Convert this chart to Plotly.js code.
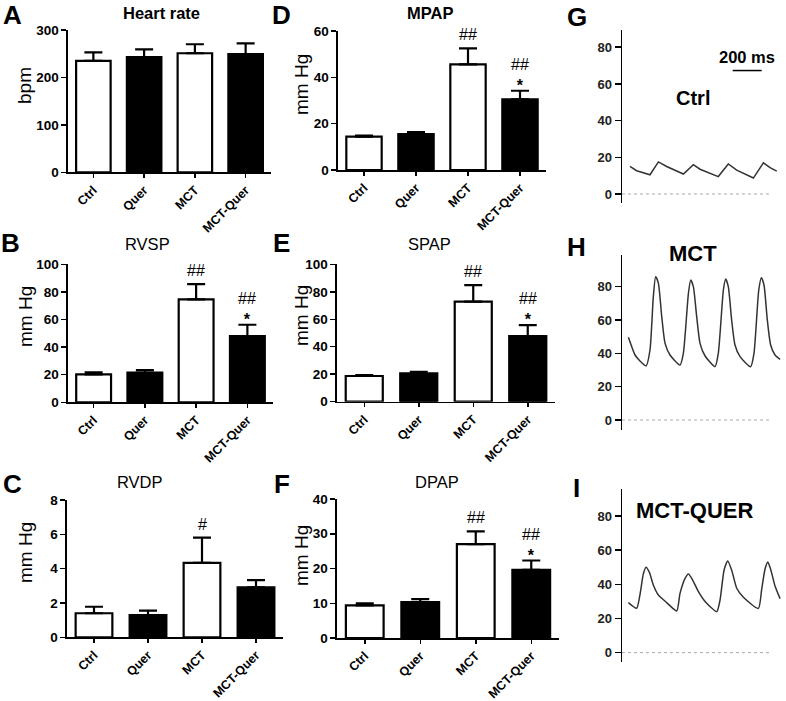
<!DOCTYPE html>
<html>
<head>
<meta charset="utf-8">
<script src="https://cdn.plot.ly/plotly-3.0.1.min.js"></script>
<style>
  html, body { margin: 0; padding: 0; background: #fff; }
  #figura { width: 786px; height: 701px; }
</style>
</head>
<body>
<div id="figura"></div>
<script>
// ---------------------------------------------------------------------
// DATA
// ---------------------------------------------------------------------
const CATEGORIES = ["Ctrl", "Quer", "MCT", "MCT-Quer"];

const HR_MEAN = [235, 243, 251, 249];
const HR_SEM = [18, 16, 19, 23];

const MPAP_MEAN = [14.4, 15.5, 45.6, 30.5];
const MPAP_SEM = [0.4, 0.9, 6.9, 3.7];

const RVSP_MEAN = [20.3, 21.5, 74.6, 48.0];
const RVSP_SEM = [1.4, 1.9, 11.1, 8.2];

const SPAP_MEAN = [18.7, 20.7, 72.8, 47.8];
const SPAP_SEM = [0.6, 1.0, 12.1, 8.0];

const RVDP_MEAN = [1.40, 1.30, 4.34, 2.91];
const RVDP_SEM = [0.38, 0.25, 1.47, 0.42];

const DPAP_MEAN = [9.4, 10.3, 27.0, 19.6];
const DPAP_SEM = [0.6, 0.9, 3.7, 2.7];

// significance marks (# vs Ctrl, * vs MCT)
const HR_SIG = ["", "", "", ""];
const HR_STAR = ["", "", "", ""];
const MPAP_SIG = ["", "", "##", "##"];
const MPAP_STAR = ["", "", "", "*"];
const RVSP_SIG = ["", "", "##", "##"];
const RVSP_STAR = ["", "", "", "*"];
const SPAP_SIG = ["", "", "##", "##"];
const SPAP_STAR = ["", "", "", "*"];
const RVDP_SIG = ["", "", "#", ""];
const RVDP_STAR = ["", "", "", ""];
const DPAP_SIG = ["", "", "##", "##"];
const DPAP_STAR = ["", "", "", "*"];

// pressure recordings (time in ms, pressure in mm Hg)
const CTRL_T = [55, 101, 193, 251, 308, 423, 492, 538, 664, 733, 791, 906, 975, 1021, 1067];
const CTRL_P = [15, 12.7, 10.5, 17.5, 15, 10.9, 16, 13.5, 9.5, 16.4, 13, 8.7, 17, 14.4, 12.5];

const MCT_T = [44, 67, 90, 124, 166, 193, 216, 232, 251, 274, 297, 331, 400, 423, 458, 474, 492, 515, 538, 573,
  641, 664, 699, 715, 733, 756, 779, 814, 887, 910, 943, 961, 979, 1002, 1025, 1055, 1090];
const MCT_P = [49.6, 44, 39, 35.4, 32.4, 42, 74, 86, 82, 62, 46, 39, 33, 40, 76, 84, 80, 62, 46, 38.4,
  32, 40, 78, 84.6, 80, 60, 45, 38, 32, 40, 78, 85.4, 81, 60, 45, 39, 36.4];

const MCTQ_T = [44, 101, 124, 147, 166, 189, 216, 251, 308, 377, 400, 435, 458, 487, 527, 573, 653, 676, 704, 729,
  756, 791, 837, 940, 963, 986, 1005, 1025, 1055, 1090];
const MCTQ_P = [29.3, 26, 34, 46, 50, 47, 39.6, 33.7, 29.3, 24.4, 34.7, 43.5, 46, 42.5, 35.7, 29.9, 24, 30.8, 48.4, 53.7,
  48.4, 37.7, 32.4, 25.9, 37, 48.8, 53, 48.8, 39, 31.6];

const SCALE_BAR_MS = 200;
const SCALE_BAR_START = 763;
const BASELINE_END_MS = 1022;

// ---------------------------------------------------------------------
// STYLE / GEOMETRY
// ---------------------------------------------------------------------
const W = 786, H = 701;
const FONT = "Arial, 'Liberation Sans', sans-serif";
const BAR_FILL = ["white", "black", "white", "black"];

const fx = (px) => px / W;
const fy = (py) => 1 - py / H;
const axKey = (n, l) => (n === 1 ? l + "axis" : l + "axis" + n);
const axRef = (n, l) => (n === 1 ? l : l + n);

const BAR_PANELS = [
  { n: 1, letter: "A", title: "Heart rate", bold: true, mean: HR_MEAN, sem: HR_SEM, sig: HR_SIG, star: HR_STAR,
    ymax: 300, dtick: 100, ytitle: "bpm", box: [68, 271, 30, 172.3], titlePos: [161, 13], letterPos: [12.5, 15], ytitlePos: [24, 86] },
  { n: 2, letter: "D", title: "MPAP", bold: true, mean: MPAP_MEAN, sem: MPAP_SEM, sig: MPAP_SIG, star: MPAP_STAR,
    ymax: 60, dtick: 20, ytitle: "mm Hg", box: [338, 546, 31, 170], titlePos: [430, 13], letterPos: [281, 15], ytitlePos: [301, 85] },
  { n: 4, letter: "B", title: "RVSP", bold: false, mean: RVSP_MEAN, sem: RVSP_SEM, sig: RVSP_SIG, star: RVSP_STAR,
    ymax: 100, dtick: 20, ytitle: "mm Hg", box: [68, 273, 264.3, 402.3], titlePos: [147, 244], letterPos: [10, 243], ytitlePos: [25, 317] },
  { n: 5, letter: "E", title: "SPAP", bold: false, mean: SPAP_MEAN, sem: SPAP_SEM, sig: SPAP_SIG, star: SPAP_STAR,
    ymax: 100, dtick: 20, ytitle: "mm Hg", box: [337, 555, 264.3, 401.7], titlePos: [430, 244], letterPos: [281, 243], ytitlePos: [302, 316] },
  { n: 7, letter: "C", title: "RVDP", bold: false, mean: RVDP_MEAN, sem: RVDP_SEM, sig: RVDP_SIG, star: RVDP_STAR,
    ymax: 8, dtick: 2, ytitle: "mm Hg", box: [67, 283, 500, 637.3], titlePos: [140, 482], letterPos: [12, 484], ytitlePos: [25, 553] },
  { n: 8, letter: "F", title: "DPAP", bold: false, mean: DPAP_MEAN, sem: DPAP_SEM, sig: DPAP_SIG, star: DPAP_STAR,
    ymax: 40, dtick: 10, ytitle: "mm Hg", box: [337, 559, 499, 638], titlePos: [437, 482], letterPos: [282, 484], ytitlePos: [301, 556] },
];

const TRACE_PANELS = [
  { n: 3, letter: "G", t: CTRL_T, p: CTRL_P, shape: "linear", box: [622, 784, 30, 203], yrange: [-4.9, 89.4],
    label: "Ctrl", labelPos: [693, 98], labelSize: 20, letterPos: [577, 17] },
  { n: 6, letter: "H", t: MCT_T, p: MCT_P, shape: "spline", box: [622, 784, 255, 430], yrange: [-6, 99],
    label: "MCT", labelPos: [693, 253], labelSize: 22, letterPos: [576, 247] },
  { n: 9, letter: "I", t: MCTQ_T, p: MCTQ_P, shape: "spline", box: [622, 784, 489.3, 661.7], yrange: [-5.3, 95.6],
    label: "MCT-QUER", labelPos: [694, 510], labelSize: 22, letterPos: [576, 488] },
];

const T_RANGE = [0, 1117];

// ---------------------------------------------------------------------
// BUILD FIGURE
// ---------------------------------------------------------------------
const traces = [];
const annotations = [];
const shapes = [];
const layout = {
  width: W, height: H,
  margin: { l: 0, r: 0, t: 0, b: 0 },
  paper_bgcolor: "white", plot_bgcolor: "white",
  showlegend: false,
  font: { family: FONT, color: "black" },
};

function paperText(text, pos, size, opts = {}) {
  annotations.push(Object.assign({
    xref: "paper", yref: "paper", x: fx(pos[0]), y: fy(pos[1]),
    xanchor: "center", yanchor: "middle", showarrow: false, text: text,
    font: { family: FONT, size: size, color: "black", weight: opts.bold ? "bold" : "normal" },
  }, opts.extra || {}));
}

BAR_PANELS.forEach((pnl) => {
  const xr = axRef(pnl.n, "x"), yr = axRef(pnl.n, "y");
  const [x0, x1, top, bottom] = pnl.box;

  traces.push({
    type: "bar", x: CATEGORIES, y: pnl.mean, xaxis: xr, yaxis: yr, width: 0.68,
    marker: { color: BAR_FILL, line: { color: "black", width: 2.2 } },
    error_y: { type: "data", symmetric: false, array: pnl.sem, arrayminus: pnl.sem.map(() => 0),
      color: "black", thickness: 2.2, width: 9 },
    hoverinfo: "skip",
  });

  layout[axKey(pnl.n, "x")] = {
    domain: [fx(x0), fx(x1)], anchor: yr, type: "category", categoryarray: CATEGORIES,
    range: [-0.5, 3.5], showline: true, linecolor: "black", linewidth: 1.6,
    ticks: "outside", ticklen: 4, tickwidth: 1.5, tickcolor: "black", tickangle: -45,
    showgrid: false, zeroline: false, fixedrange: true,
    tickfont: { family: FONT, size: 12.5, color: "black", weight: "bold" },
  };
  layout[axKey(pnl.n, "y")] = {
    domain: [fy(bottom), fy(top)], anchor: xr, range: [0, pnl.ymax], dtick: pnl.dtick, tick0: 0,
    showline: true, linecolor: "black", linewidth: 1.6,
    ticks: "outside", ticklen: 5, tickwidth: 1.5, tickcolor: "black",
    showgrid: false, zeroline: false, fixedrange: true,
    tickfont: { family: FONT, size: 13.5, color: "black", weight: "bold" },
  };

  // significance marks: one text per bar, "#" line above the "*" line
  CATEGORIES.forEach((c, i) => {
    if (!pnl.sig[i] && !pnl.star[i]) return;
    const lines = [];
    if (pnl.sig[i]) lines.push(pnl.sig[i]);
    if (pnl.star[i]) lines.push("<b>" + pnl.star[i] + "</b>");
    annotations.push({
      xref: xr, yref: yr, x: c, y: pnl.mean[i] + pnl.sem[i], text: lines.join("<br>"),
      showarrow: false, yanchor: "bottom", yshift: pnl.star[i] ? -5 : 3,
      font: { family: FONT, size: 16, color: "black" },
    });
  });

  paperText(pnl.title, pnl.titlePos, 16.5, { bold: pnl.bold });
  paperText(pnl.letter, pnl.letterPos, 26, { bold: true });
  paperText(pnl.ytitle, pnl.ytitlePos, 19, { extra: { textangle: -90 } });
});

TRACE_PANELS.forEach((pnl) => {
  const xr = axRef(pnl.n, "x"), yr = axRef(pnl.n, "y");
  const [x0, x1, top, bottom] = pnl.box;

  traces.push({
    type: "scatter", mode: "lines", x: pnl.t, y: pnl.p, xaxis: xr, yaxis: yr,
    line: { color: "#333", width: 1.5, shape: pnl.shape, smoothing: 0.6 },
    hoverinfo: "skip", cliponaxis: false,
  });

  layout[axKey(pnl.n, "x")] = {
    domain: [fx(x0), fx(x1)], anchor: yr, range: T_RANGE, visible: false, fixedrange: true,
  };
  layout[axKey(pnl.n, "y")] = {
    domain: [fy(bottom), fy(top)], anchor: xr, range: pnl.yrange, dtick: 20, tick0: 0,
    showline: true, linecolor: "black", linewidth: 1.5,
    ticks: "outside", ticklen: 6, tickwidth: 1.5, tickcolor: "black",
    showgrid: false, zeroline: false, fixedrange: true,
    tickfont: { family: FONT, size: 13, color: "#222", weight: "bold" },
  };

  // dotted zero line
  shapes.push({ type: "line", xref: xr, yref: yr, x0: T_RANGE[0], x1: BASELINE_END_MS, y0: 0, y1: 0,
    line: { color: "#aaa", width: 1, dash: "dot" } });

  paperText(pnl.label, pnl.labelPos, pnl.labelSize, { bold: true });
  paperText(pnl.letter, pnl.letterPos, 26, { bold: true });
});

// 200 ms scale bar (panel G)
shapes.push({ type: "line", xref: "x3", yref: "y3", x0: SCALE_BAR_START, x1: SCALE_BAR_START + SCALE_BAR_MS,
  y0: 67.3, y1: 67.3, line: { color: "black", width: 1.5 } });
paperText(SCALE_BAR_MS + " ms", [747, 57], 16.5, { bold: true });

layout.annotations = annotations;
layout.shapes = shapes;

Plotly.newPlot("figura", traces, layout, { staticPlot: true, displayModeBar: false });
</script>
</body>
</html>
